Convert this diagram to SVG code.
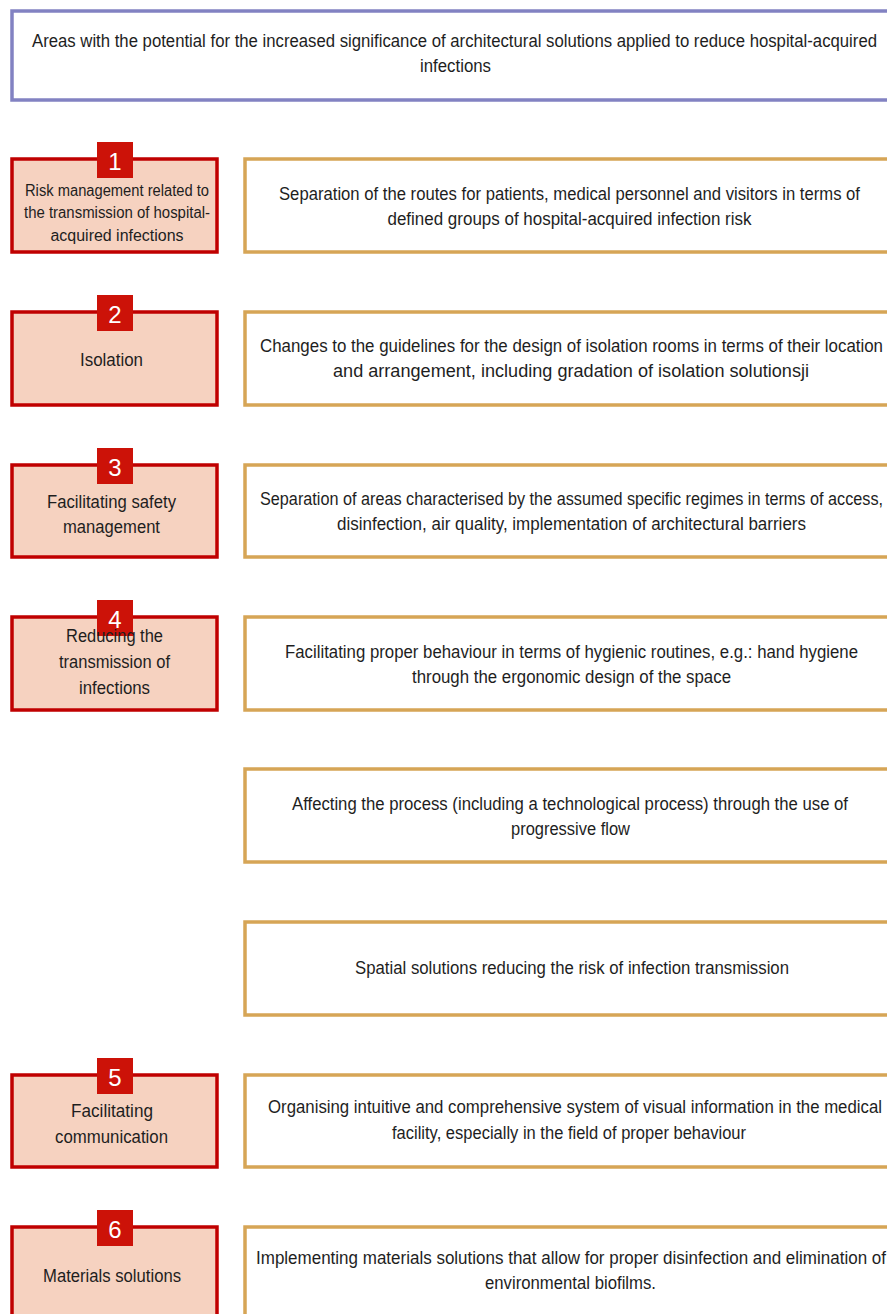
<svg xmlns="http://www.w3.org/2000/svg" width="887" height="1314" viewBox="0 0 887 1314">
<style>
.hdr{fill:#ffffff;stroke:#8282c2;stroke-width:3.5}
.lb{fill:#f6d2c0;stroke:#c00000;stroke-width:3.5}
.rb{fill:#ffffff;stroke:#d6a556;stroke-width:3.5}
.bd{fill:#cc1208}
.t{font-family:"Liberation Sans",Arial,sans-serif;font-size:17.5px;fill:#1e1e1e;text-anchor:middle}
.ts{font-family:"Liberation Sans",Arial,sans-serif;font-size:16px;fill:#1e1e1e;text-anchor:middle}
.n{font-family:"Liberation Sans",Arial,sans-serif;font-size:24px;fill:#ffffff;text-anchor:middle}
</style>
<rect width="887" height="1314" fill="#ffffff"/>
<g id="header">
<rect class="hdr" x="12" y="11" width="880" height="89"/>
<text class="t" x="454.5" y="47" textLength="845" lengthAdjust="spacingAndGlyphs">Areas with the potential for the increased significance of architectural solutions applied to reduce hospital-acquired</text>
<text class="t" x="455.5" y="72" textLength="71" lengthAdjust="spacingAndGlyphs">infections</text>
</g>
<g id="left1">
<rect class="lb" x="12" y="159" width="205" height="93"/>
<rect class="bd" x="97" y="142" width="36" height="36"/>
<text class="n" x="115" y="170">1</text>
<text class="ts" x="117" y="196" textLength="184" lengthAdjust="spacingAndGlyphs">Risk management related to</text>
<text class="ts" x="117" y="218" textLength="186" lengthAdjust="spacingAndGlyphs">the transmission of hospital-</text>
<text class="ts" x="117" y="241" textLength="133" lengthAdjust="spacingAndGlyphs">acquired infections</text>
</g>
<g id="left2">
<rect class="lb" x="12" y="312" width="205" height="93"/>
<rect class="bd" x="97" y="295" width="36" height="36"/>
<text class="n" x="115" y="323">2</text>
<text class="t" x="111.5" y="366" textLength="63" lengthAdjust="spacingAndGlyphs">Isolation</text>
</g>
<g id="left3">
<rect class="lb" x="12" y="465" width="205" height="92"/>
<rect class="bd" x="97" y="448" width="36" height="36"/>
<text class="n" x="115" y="476">3</text>
<text class="t" x="111.5" y="508" textLength="129" lengthAdjust="spacingAndGlyphs">Facilitating safety</text>
<text class="t" x="111.5" y="533" textLength="97" lengthAdjust="spacingAndGlyphs">management</text>
</g>
<g id="left4">
<rect class="lb" x="12" y="617" width="205" height="93"/>
<rect class="bd" x="97" y="600" width="36" height="36"/>
<text class="n" x="115" y="628">4</text>
<text class="t" x="114.5" y="642" textLength="97" lengthAdjust="spacingAndGlyphs">Reducing the</text>
<text class="t" x="114.5" y="668" textLength="111" lengthAdjust="spacingAndGlyphs">transmission of</text>
<text class="t" x="114.5" y="694" textLength="71" lengthAdjust="spacingAndGlyphs">infections</text>
</g>
<g id="left5">
<rect class="lb" x="12" y="1075" width="205" height="92"/>
<rect class="bd" x="97" y="1058" width="36" height="36"/>
<text class="n" x="115" y="1086">5</text>
<text class="t" x="112" y="1117" textLength="82" lengthAdjust="spacingAndGlyphs">Facilitating</text>
<text class="t" x="111.5" y="1143" textLength="113" lengthAdjust="spacingAndGlyphs">communication</text>
</g>
<g id="left6">
<rect class="lb" x="12" y="1227" width="205" height="100"/>
<rect class="bd" x="97" y="1210" width="36" height="36"/>
<text class="n" x="115" y="1238">6</text>
<text class="t" x="112" y="1282" textLength="138" lengthAdjust="spacingAndGlyphs">Materials solutions</text>
</g>
<g id="right1">
<rect class="rb" x="245" y="159" width="648" height="93"/>
<text class="t" x="569.5" y="200" textLength="581" lengthAdjust="spacingAndGlyphs">Separation of the routes for patients, medical personnel and visitors in terms of</text>
<text class="t" x="569.5" y="225" textLength="364" lengthAdjust="spacingAndGlyphs">defined groups of hospital-acquired infection risk</text>
</g>
<g id="right2">
<rect class="rb" x="245" y="312" width="648" height="93"/>
<text class="t" x="571.5" y="352" textLength="623" lengthAdjust="spacingAndGlyphs">Changes to the guidelines for the design of isolation rooms in terms of their location</text>
<text class="t" x="571" y="377" textLength="476" lengthAdjust="spacingAndGlyphs">and arrangement, including gradation of isolation solutionsji</text>
</g>
<g id="right3">
<rect class="rb" x="245" y="465" width="648" height="92"/>
<text class="t" x="571.5" y="505" textLength="623" lengthAdjust="spacingAndGlyphs">Separation of areas characterised by the assumed specific regimes in terms of access,</text>
<text class="t" x="571.5" y="530" textLength="469" lengthAdjust="spacingAndGlyphs">disinfection, air quality, implementation of architectural barriers</text>
</g>
<g id="right4">
<rect class="rb" x="245" y="617" width="648" height="93"/>
<text class="t" x="571.5" y="658" textLength="573" lengthAdjust="spacingAndGlyphs">Facilitating proper behaviour in terms of hygienic routines, e.g.: hand hygiene</text>
<text class="t" x="571.5" y="683" textLength="319" lengthAdjust="spacingAndGlyphs">through the ergonomic design of the space</text>
</g>
<g id="right5">
<rect class="rb" x="245" y="769" width="648" height="93"/>
<text class="t" x="570" y="810" textLength="556" lengthAdjust="spacingAndGlyphs">Affecting the process (including a technological process) through the use of</text>
<text class="t" x="570.5" y="835" textLength="119" lengthAdjust="spacingAndGlyphs">progressive flow</text>
</g>
<g id="right6">
<rect class="rb" x="245" y="922" width="648" height="93"/>
<text class="t" x="572" y="974" textLength="434" lengthAdjust="spacingAndGlyphs">Spatial solutions reducing the risk of infection transmission</text>
</g>
<g id="right7">
<rect class="rb" x="245" y="1075" width="648" height="92"/>
<text class="t" x="575" y="1113" textLength="614" lengthAdjust="spacingAndGlyphs">Organising intuitive and comprehensive system of visual information in the medical</text>
<text class="t" x="569" y="1139" textLength="354" lengthAdjust="spacingAndGlyphs">facility, especially in the field of proper behaviour</text>
</g>
<g id="right8">
<rect class="rb" x="245" y="1227" width="648" height="100"/>
<text class="t" x="571" y="1264" textLength="630" lengthAdjust="spacingAndGlyphs">Implementing materials solutions that allow for proper disinfection and elimination of</text>
<text class="t" x="570.5" y="1289" textLength="171" lengthAdjust="spacingAndGlyphs">environmental biofilms.</text>
</g>
<g id="connectors"></g>
</svg>
